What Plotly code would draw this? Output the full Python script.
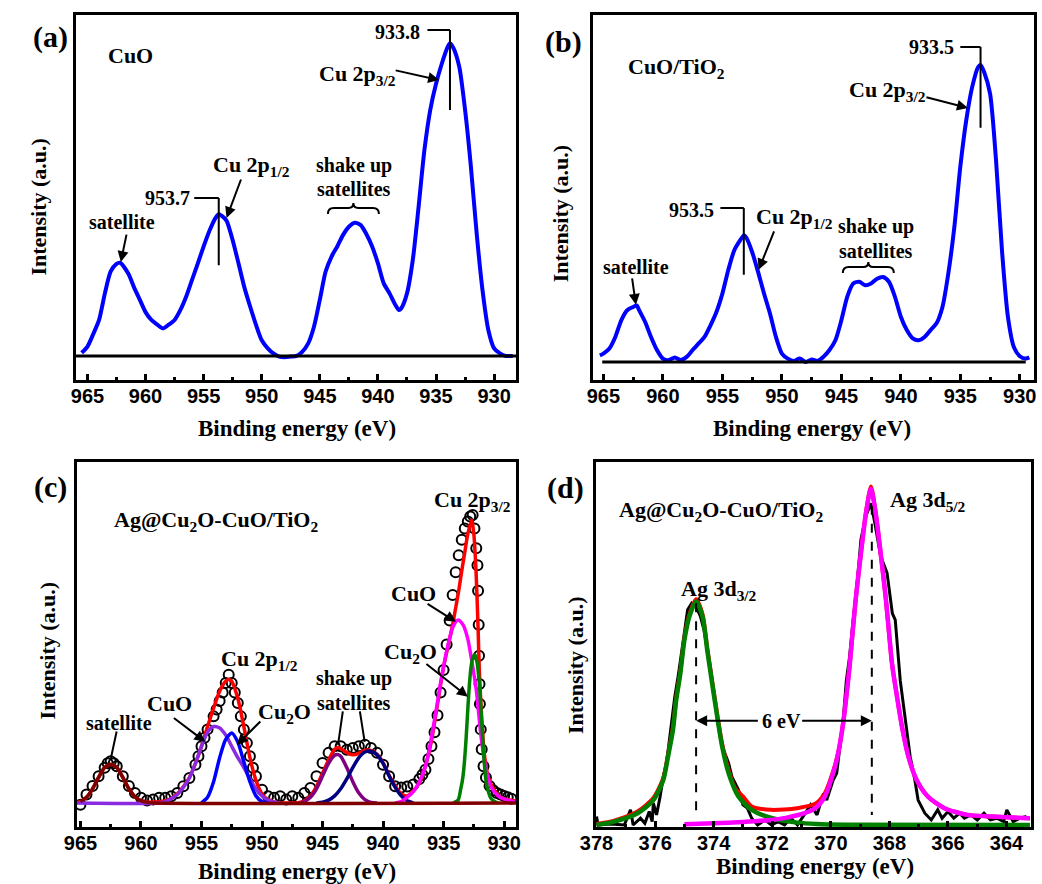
import plotly.graph_objects as go

W, H = 1042, 884
SERIF = "Liberation Serif"
SANS = "Liberation Sans"

# ---------------- data: (a) CuO ----------------
A_EV = [965.5, 965.0, 964.5, 964.0, 963.5, 963.0, 962.5, 962.2, 961.5, 961.0,
        960.5, 960.0, 959.5, 959.0, 958.5, 958.0, 957.5, 957.0, 956.5, 956.0,
        955.5, 955.0, 954.5, 954.0, 953.7, 953.2, 953.0, 952.5, 952.0, 951.5,
        951.0, 950.5, 950.0, 949.5, 949.0, 948.5, 948.0, 947.5, 947.0, 946.5,
        946.0, 945.5, 945.0, 944.5, 944.0, 943.5, 943.0, 942.5, 942.0, 941.5,
        941.0, 940.5, 940.0, 939.5, 939.0, 938.5, 938.2, 938.0, 937.5, 937.0,
        936.5, 936.0, 935.5, 935.0, 934.5, 934.0, 933.8, 933.5, 933.0, 932.5,
        932.0, 931.5, 931.0, 930.5, 930.0, 929.5, 929.0, 928.4]
A_INT = [0.01, 0.03, 0.07, 0.115, 0.20, 0.27, 0.294, 0.298, 0.264, 0.22,
         0.18, 0.14, 0.115, 0.10, 0.088, 0.10, 0.115, 0.147, 0.19, 0.243,
         0.296, 0.35, 0.40, 0.44, 0.453, 0.44, 0.43, 0.37, 0.296, 0.22,
         0.158, 0.10, 0.05, 0.025, 0.008, -0.002, -0.004, -0.002, 0.0, 0.014,
         0.04, 0.094, 0.18, 0.27, 0.317, 0.35, 0.387, 0.413, 0.426, 0.419,
         0.39, 0.35, 0.296, 0.232, 0.20, 0.163, 0.147, 0.152, 0.20, 0.307,
         0.477, 0.658, 0.786, 0.87, 0.935, 0.988, 1.0, 0.984, 0.924, 0.786,
         0.605, 0.39, 0.21, 0.083, 0.024, 0.008, 0.0, 0.0]

# ---------------- data: (b) CuO/TiO2 ----------------
B_EV = [965.3, 965.0, 964.5, 964.0, 963.5, 963.0, 962.5, 962.2, 962.0, 961.5,
        961.0, 960.5, 960.0, 959.5, 959.0, 958.5, 958.0, 957.5, 957.0, 956.5,
        956.0, 955.5, 955.0, 954.5, 954.0, 953.5, 953.2, 953.0, 952.5, 952.0,
        951.5, 951.0, 950.5, 950.0, 949.5, 949.0, 948.5, 948.0, 947.5, 947.0,
        946.5, 946.0, 945.5, 945.0, 944.5, 944.0, 943.5, 943.0, 942.5, 942.0,
        941.5, 941.0, 940.5, 940.0, 939.5, 939.0, 938.5, 938.0, 937.5, 937.0,
        936.5, 936.0, 935.5, 935.0, 934.5, 934.0, 933.5, 933.3, 933.0, 932.5,
        932.0, 931.5, 931.0, 930.5, 930.0, 929.5, 929.2]
B_INT = [0.022, 0.028, 0.045, 0.084, 0.14, 0.174, 0.185, 0.19, 0.174, 0.135,
         0.084, 0.04, 0.011, 0.006, 0.015, 0.006, 0.017, 0.04, 0.062, 0.084,
         0.123, 0.168, 0.23, 0.31, 0.376, 0.41, 0.426, 0.419, 0.37, 0.303,
         0.23, 0.163, 0.084, 0.028, 0.011, 0.003, 0.011, 0.0, 0.008, 0.003,
         0.017, 0.04, 0.073, 0.14, 0.22, 0.264, 0.27, 0.258, 0.264, 0.28,
         0.286, 0.27, 0.22, 0.152, 0.107, 0.079, 0.073, 0.084, 0.107, 0.13,
         0.185, 0.30, 0.455, 0.657, 0.814, 0.926, 0.993, 1.0, 0.976, 0.903,
         0.68, 0.376, 0.152, 0.05, 0.019, 0.011, 0.015]

# ---------------- data: (c) Ag@Cu2O-CuO/TiO2, Cu 2p ----------------
C_EV = [965.0, 964.5, 964.0, 963.5, 963.0, 962.75, 962.5, 962.25, 962.0, 961.5,
        961.0, 960.5, 960.0, 959.5, 959.0, 958.5, 958.0, 957.5, 957.0, 956.5,
        956.0, 955.5, 955.25, 955.0, 954.75, 954.5, 954.0, 953.75, 953.5, 953.25,
        953.0, 952.75, 952.5, 952.25, 952.0, 951.75, 951.5, 951.25, 951.0, 950.75,
        950.5, 950.0, 949.5, 949.0, 948.5, 948.0, 947.5, 947.0, 946.5, 946.0,
        945.5, 945.0, 944.5, 944.0, 943.5, 943.0, 942.5, 942.0, 941.5, 941.0,
        940.5, 940.0, 939.5, 939.0, 938.5, 938.0, 937.5, 937.0, 936.75, 936.5,
        936.25, 936.0, 935.75, 935.5, 935.25, 935.0, 934.75, 934.5, 934.25, 934.0,
        933.75, 933.5, 933.25, 933.0, 932.8, 932.6, 932.45, 932.3, 932.2, 932.15,
        932.1, 932.07, 932.03, 932.0, 931.93, 931.85, 931.7, 931.5, 931.2, 930.9,
        930.6, 930.3, 930.0, 929.7, 929.4]
C_DATA = [-0.006, 0.03, 0.06, 0.094, 0.124, 0.14, 0.147, 0.14, 0.13, 0.094,
          0.06, 0.035, 0.018, 0.009, 0.012, 0.018, 0.018, 0.024, 0.035, 0.059,
          0.088, 0.135, 0.165, 0.20, 0.23, 0.26, 0.306, 0.33, 0.36, 0.39,
          0.424, 0.453, 0.424, 0.39, 0.353, 0.306, 0.26, 0.212, 0.165, 0.124,
          0.094, 0.047, 0.024, 0.018, 0.024, 0.012, 0.024, 0.018, 0.035, 0.053,
          0.094, 0.141, 0.177, 0.20, 0.20, 0.188, 0.194, 0.20, 0.206, 0.194,
          0.177, 0.135, 0.094, 0.059, 0.055, 0.058, 0.065, 0.085, 0.10, 0.117,
          0.155, 0.20, 0.25, 0.31, 0.39, 0.47, 0.56, 0.645, 0.735, 0.815,
          0.875, 0.93, 0.97, 0.995, 1.012, 1.018, 0.97, 0.90, 0.84, 0.75,
          0.63, 0.52, 0.42, 0.35, 0.26, 0.19, 0.13, 0.09, 0.06, 0.045,
          0.035, 0.03, 0.025, 0.02, 0.015]
C_FIT_EV = [965.3, 965.0, 964.5, 964.0, 963.5, 963.0, 962.5, 962.0, 961.5, 961.0,
            960.5, 960.0, 959.5, 959.0, 958.5, 958.0, 957.5, 957.0, 956.5, 956.0,
            955.5, 955.0, 954.5, 954.0, 953.5, 953.0, 952.75, 952.5, 952.0, 951.5,
            951.0, 950.5, 950.0, 949.5, 949.0, 948.5, 947.0, 946.5, 946.0, 945.5,
            945.0, 944.5, 944.0, 943.75, 943.5, 943.0, 942.5, 942.0, 941.5, 941.0,
            940.5, 940.0, 939.5, 939.0, 938.5, 938.0, 937.5, 937.0, 936.5, 936.0,
            935.5, 935.0, 934.5, 934.25, 934.0, 933.75, 933.5, 933.25, 933.0, 932.67,
            932.5, 932.32, 932.15, 932.05, 931.85, 931.64, 931.3, 930.82, 930.3, 929.8,
            929.1]
C_FIT = [0.002, 0.005, 0.02, 0.05, 0.09, 0.125, 0.136, 0.125, 0.09, 0.05,
         0.022, 0.008, 0.003, 0.003, 0.004, 0.008, 0.016, 0.032, 0.057, 0.09,
         0.14, 0.2, 0.27, 0.335, 0.395, 0.43, 0.436, 0.43, 0.37, 0.27,
         0.16, 0.08, 0.032, 0.012, 0.004, 0.0, 0.001, 0.008, 0.025, 0.058,
         0.105, 0.152, 0.19, 0.196, 0.192, 0.178, 0.17, 0.175, 0.186, 0.186,
         0.172, 0.142, 0.098, 0.06, 0.032, 0.025, 0.042, 0.072, 0.13, 0.22,
         0.35, 0.48, 0.58, 0.63, 0.69, 0.75, 0.82, 0.885, 0.95, 1.0,
         0.95, 0.82, 0.62, 0.47, 0.30, 0.176, 0.09, 0.046, 0.02, 0.012,
         0.008]
# components
C_SAT_EV = [965.0, 964.5, 964.0, 963.5, 963.0, 962.5, 962.0, 961.5, 961.0, 960.5, 960.0, 959.5, 959.0, 929.0]
C_SAT = [0.005, 0.02, 0.05, 0.09, 0.125, 0.136, 0.125, 0.09, 0.05, 0.022, 0.008, 0.002, 0.0, 0.0]
C_CUO12_EV = [965.3, 958.5, 958.0, 957.5, 957.0, 956.5, 956.0, 955.5, 955.0, 954.5, 954.0, 953.5,
              953.0, 952.5, 952.0, 951.5, 951.0, 950.5, 950.0, 949.5, 949.0, 948.5]
C_CUO12 = [0.0, 0.0, 0.005, 0.015, 0.03, 0.055, 0.088, 0.14, 0.2, 0.25, 0.27, 0.265,
           0.24, 0.2, 0.16, 0.125, 0.085, 0.05, 0.025, 0.01, 0.003, 0.0]
C_CU2O12_EV = [955.0, 954.5, 954.0, 953.5, 953.0, 952.5, 952.0, 951.5, 951.0, 950.5, 950.0, 949.5]
C_CU2O12 = [0.0, 0.02, 0.075, 0.16, 0.225, 0.247, 0.215, 0.145, 0.075, 0.025, 0.005, 0.0]
C_SU1_EV = [946.8, 946.5, 946.0, 945.5, 945.0, 944.5, 944.0, 943.75, 943.5, 943.0, 942.5, 942.0, 941.5, 941.0, 940.5]
C_SU1 = [0.0, 0.005, 0.02, 0.05, 0.095, 0.14, 0.168, 0.171, 0.165, 0.125, 0.075, 0.035, 0.012, 0.002, 0.0]
C_SU2_EV = [945.5, 945.0, 944.5, 944.0, 943.5, 943.0, 942.5, 942.0, 941.5, 941.0, 940.5, 940.0, 939.5, 939.0, 938.5, 938.0, 937.5]
C_SU2 = [0.0, 0.003, 0.01, 0.025, 0.05, 0.085, 0.125, 0.16, 0.18, 0.183, 0.17, 0.14, 0.095, 0.055, 0.025, 0.008, 0.0]
C_CUO32_EV = [939.0, 938.5, 938.1, 937.5, 937.05, 936.5, 936.24, 935.7, 935.16, 934.6, 934.2, 933.8,
              933.4, 933.0, 932.73, 932.3, 931.9, 931.5, 931.1, 930.5, 929.7, 929.1]
C_CUO32 = [0.0, 0.005, 0.017, 0.04, 0.07, 0.13, 0.177, 0.305, 0.446, 0.565, 0.625, 0.647,
           0.63, 0.58, 0.517, 0.4, 0.234, 0.12, 0.058, 0.025, 0.01, 0.005]
C_CU2O32_EV = [934.2, 933.8, 933.6, 933.4, 933.25, 933.13, 933.0, 932.86, 932.7, 932.55, 932.4,
               932.25, 932.05, 931.9, 931.78, 931.65, 931.5, 931.3, 931.1, 930.8, 930.5]
C_CU2O32 = [0.0, 0.01, 0.045, 0.093, 0.16, 0.234, 0.33, 0.423, 0.49, 0.518, 0.523,
            0.5, 0.423, 0.32, 0.234, 0.15, 0.08, 0.04, 0.017, 0.005, 0.0]

# ---------------- data: (d) Ag 3d ----------------
D_EV = [378.0, 377.95, 377.5, 377.05, 376.84, 376.75, 376.5, 376.35, 376.2, 376.1,
        376.06, 375.95, 375.83, 375.72, 375.61, 375.5, 375.33, 375.2, 375.05, 374.89,
        374.75, 374.6, 374.45, 374.33, 374.1, 373.95, 373.82, 373.66, 373.49, 373.38,
        373.15, 373.0, 372.85, 372.7, 372.5, 372.25, 372.03, 371.8, 371.58, 371.36,
        371.14, 370.91, 370.69, 370.47, 370.36, 370.25, 370.14, 369.92, 369.8, 369.69,
        369.58, 369.47, 369.36, 369.25, 369.1, 368.97, 368.8, 368.63, 368.5, 368.3,
        368.08, 367.9, 367.8, 367.63, 367.52, 367.4, 367.29, 367.13, 367.02, 366.79,
        366.57, 366.35, 366.2, 366.0, 365.8, 365.6, 365.44, 365.22, 365.0, 364.77,
        364.55, 364.33, 364.1, 363.99, 363.77, 363.55, 363.32]
D_DATA = [0.025, 0.0, 0.003, 0.0, 0.045, 0.0, 0.02, 0.005, 0.04, 0.01,
          0.065, 0.03, 0.084, 0.144, 0.184, 0.263, 0.38, 0.45, 0.54, 0.64,
          0.66, 0.65, 0.62, 0.58, 0.46, 0.37, 0.283, 0.223, 0.184, 0.144,
          0.104, 0.06, 0.05, 0.02, 0.0, 0.015, 0.0, 0.01, 0.0, 0.02,
          0.0, 0.03, 0.06, 0.03, 0.065, 0.094, 0.074, 0.134, 0.154, 0.233,
          0.31, 0.43, 0.5, 0.6, 0.72, 0.85, 0.92, 0.957, 0.9, 0.8,
          0.75, 0.63, 0.61, 0.43, 0.352, 0.274, 0.203, 0.134, 0.074, 0.035,
          0.015, 0.045, 0.02, 0.04, 0.02, 0.035, 0.02, 0.03, 0.015, 0.035,
          0.015, 0.02, 0.01, 0.045, 0.01, 0.02, 0.025]
D_FIT_EV = [378.0, 377.4, 376.6, 376.06, 375.72, 375.56, 375.39, 375.28, 375.14, 375.0,
            374.83, 374.6, 374.38, 374.22, 374.05, 373.88, 373.71, 373.49, 373.27, 373.0,
            372.7, 372.04, 371.15, 370.5, 370.2, 369.92, 369.75, 369.58, 369.36, 369.14,
            368.97, 368.8, 368.63, 368.47, 368.3, 368.13, 367.91, 367.74, 367.57, 367.35,
            367.07, 366.68, 366.12, 365.34, 364.5, 363.8, 363.2]
D_FIT = [0.003, 0.013, 0.04, 0.08, 0.14, 0.21, 0.29, 0.378, 0.456, 0.556,
         0.626, 0.672, 0.627, 0.527, 0.427, 0.33, 0.241, 0.163, 0.11, 0.085,
         0.055, 0.045, 0.05, 0.065, 0.095, 0.16, 0.215, 0.303, 0.472, 0.68,
         0.81, 0.93, 1.007, 0.93, 0.81, 0.68, 0.48, 0.382, 0.292, 0.203,
         0.134, 0.084, 0.05, 0.03, 0.025, 0.022, 0.02]
D_32_EV = [378.0, 377.4, 376.6, 376.06, 375.72, 375.56, 375.39, 375.28, 375.14, 375.0,
           374.83, 374.6, 374.38, 374.22, 374.05, 373.88, 373.71, 373.49, 373.15, 372.7,
           372.0, 371.15, 370.5, 369.5, 363.2]
D_32 = [0.0, 0.01, 0.035, 0.074, 0.134, 0.203, 0.283, 0.372, 0.45, 0.55,
        0.62, 0.665, 0.62, 0.52, 0.42, 0.322, 0.233, 0.154, 0.084, 0.045,
        0.02, 0.007, 0.003, 0.001, 0.0]
D_52_EV = [375.0, 374.0, 373.0, 372.04, 371.5, 370.9, 370.5, 370.2, 369.92, 369.75,
           369.58, 369.47, 369.36, 369.25, 369.14, 368.97, 368.8, 368.63, 368.47, 368.3,
           368.13, 368.02, 367.91, 367.74, 367.57, 367.35, 367.07, 366.68, 366.12, 365.34,
           364.5, 363.8, 363.2]
D_52 = [0.002, 0.005, 0.009, 0.015, 0.022, 0.035, 0.052, 0.085, 0.154, 0.213,
        0.302, 0.382, 0.471, 0.58, 0.68, 0.81, 0.928, 1.0, 0.928, 0.81,
        0.68, 0.58, 0.48, 0.382, 0.292, 0.203, 0.134, 0.084, 0.05, 0.03,
        0.025, 0.022, 0.02]

for xs, ys in [(A_EV, A_INT), (B_EV, B_INT), (C_EV, C_DATA), (C_FIT_EV, C_FIT),
               (C_SAT_EV, C_SAT), (C_CUO12_EV, C_CUO12), (C_CU2O12_EV, C_CU2O12),
               (C_SU1_EV, C_SU1), (C_SU2_EV, C_SU2), (C_CUO32_EV, C_CUO32),
               (C_CU2O32_EV, C_CU2O32), (D_EV, D_DATA), (D_FIT_EV, D_FIT),
               (D_32_EV, D_32), (D_52_EV, D_52)]:
    assert len(xs) == len(ys), (len(xs), len(ys), xs[0])

# ---------------- layout helpers ----------------
def P(px, py):
    return px / W, 1 - py / H

PANELS = {
    'a': dict(s='', xd=(61, 510), yd=(15, 380), xr=[966.0, 928.1], yr=[-0.077, 1.09], dt=5, mdt=2.5),
    'b': dict(s='2', xd=(588, 1038), yd=(15, 380), xr=[965.9, 928.8], yr=[-0.061, 1.168], dt=5, mdt=2.5),
    'c': dict(s='3', xd=(62, 510), yd=(462, 827), xr=[965.3, 929.0], yr=[-0.085, 1.205], dt=5, mdt=2.5),
    'd': dict(s='4', xd=(591, 1035), yd=(462, 827), xr=[378.03, 363.16], yr=[-0.006, 1.08], dt=2, mdt=1),
}

fig = go.Figure()
layout = dict(width=W, height=H, margin=dict(l=0, r=0, t=0, b=0),
              paper_bgcolor='white', plot_bgcolor='white', showlegend=False)

for k, p in PANELS.items():
    s = p['s']
    layout['xaxis' + s] = dict(
        domain=[p['xd'][0] / W, p['xd'][1] / W], range=p['xr'], anchor='y' + s,
        showline=True, linewidth=3, linecolor='black', mirror=True,
        ticks='inside', ticklen=6, tickwidth=3, tickcolor='black', dtick=p['dt'], tick0=0,
        minor=dict(dtick=p['mdt'], tick0=0, ticks='inside', ticklen=3, tickwidth=3, tickcolor='black', showgrid=False),
        tickfont=dict(family=SANS, size=20, color='black', weight='bold'),
        ticklabelstandoff=-4,
        showgrid=False, zeroline=False, fixedrange=True)
    layout['yaxis' + s] = dict(
        domain=[1 - p['yd'][1] / H, 1 - p['yd'][0] / H], range=p['yr'], anchor='x' + s,
        showline=True, linewidth=3, linecolor='black', mirror=True,
        ticks='', showticklabels=False, showgrid=False, zeroline=False, fixedrange=True)


def add_line(panel, x, y, color, width, shape='spline'):
    s = PANELS[panel]['s']
    fig.add_trace(go.Scatter(x=x, y=y, xaxis='x' + s, yaxis='y' + s, mode='lines',
                             line=dict(color=color, width=width, shape=shape,
                                       smoothing=0.7 if shape == 'spline' else None),
                             hoverinfo='skip', showlegend=False))

# (a)
add_line('a', A_EV, A_INT, '#0000FF', 4)
# (b)
add_line('b', B_EV, B_INT, '#0000FF', 4)
# (c)
fig.add_trace(go.Scatter(x=C_EV, y=C_DATA, xaxis='x3', yaxis='y3', mode='markers',
                         marker=dict(symbol='circle-open', size=10, color='black', line=dict(width=2)),
                         hoverinfo='skip', showlegend=False))
add_line('c', C_FIT_EV, C_FIT, '#FF0000', 3.5)
add_line('c', C_CUO12_EV, C_CUO12, '#8A2BE2', 3.5)
add_line('c', C_CU2O12_EV, C_CU2O12, '#0000FF', 3.5)
add_line('c', C_SU1_EV, C_SU1, '#800080', 3.5)
add_line('c', C_SU2_EV, C_SU2, '#000080', 3.5)
add_line('c', C_CUO32_EV, C_CUO32, '#FF00FF', 3.5)
add_line('c', C_CU2O32_EV, C_CU2O32, '#008000', 3.5)
add_line('c', C_SAT_EV, C_SAT, '#800000', 3.5)
# (d)
add_line('d', D_EV, D_DATA, 'black', 3, shape='linear')
add_line('d', D_FIT_EV, D_FIT, '#FF0000', 4)
add_line('d', D_32_EV, D_32, '#008000', 4.5)
add_line('d', D_52_EV, D_52, '#FF00FF', 4.5)

shapes = []
annotations = []

def text(t, px, py, size=22, xanchor='left', yanchor='middle'):
    x, y = P(px, py)
    annotations.append(dict(text=t, x=x, y=y, xref='paper', yref='paper', showarrow=False,
                            xanchor=xanchor, yanchor=yanchor,
                            font=dict(family=SERIF, size=size, color='black', weight='bold')))

def arrow(panel, x, y, ax, ay, head=2, width=2):
    s = PANELS[panel]['s']
    annotations.append(dict(text='', x=x, y=y, xref='x' + s, yref='y' + s, ax=ax, ay=ay,
                            showarrow=True, arrowhead=head, arrowsize=1.1, arrowwidth=width,
                            arrowcolor='black'))

def seg(panel, x0, y0, x1, y1, width=2, dash='solid'):
    s = PANELS[panel]['s']
    shapes.append(dict(type='line', xref='x' + s, yref='y' + s, x0=x0, y0=y0, x1=x1, y1=y1,
                       line=dict(color='black', width=width, dash=dash)))

def brace(cx, yb, hw):
    def q(px, py):
        x, y = P(px, py)
        return f"{x:.5f},{y:.5f}"
    path = (f"M {q(cx-hw, yb)} Q {q(cx-hw, yb-6)} {q(cx-hw+6, yb-6)} L {q(cx-5, yb-6)} "
            f"Q {q(cx, yb-6)} {q(cx, yb-11)} Q {q(cx, yb-6)} {q(cx+5, yb-6)} "
            f"L {q(cx+hw-6, yb-6)} Q {q(cx+hw, yb-6)} {q(cx+hw, yb)}")
    shapes.append(dict(type='path', xref='paper', yref='paper', path=path,
                       line=dict(color='black', width=2)))

# axis titles
for (xt, yt), (xy, yy) in [((287, 428), (22, 207)), ((812, 428), (555, 213)),
                           ((287, 871), (32, 650)), ((815, 866), (570, 665))]:
    x, y = P(xt, yt)
    annotations.append(dict(text='Binding energy (eV)', x=x, y=y, xref='paper', yref='paper',
                            showarrow=False, xanchor='center', yanchor='middle',
                            font=dict(family=SERIF, size=23, color='black', weight='bold')))
    x, y = P(xy, yy)
    annotations.append(dict(text='Intensity (a.u.)', x=x, y=y, xref='paper', yref='paper',
                            showarrow=False, xanchor='center', yanchor='middle', textangle=-90,
                            font=dict(family=SERIF, size=22, color='black', weight='bold')))

# ----- panel (a) -----
shapes.append(dict(type='line', xref='x', yref='y', x0=966.0, x1=928.1, y0=0, y1=0,
                   line=dict(color='black', width=3)))
text('(a)', 35, 37, size=30, xanchor='center')
text('CuO', 92, 55)
text('933.8', 414, 32, size=20, xanchor='right')
seg('a', 935.74, 1.042, 933.8, 1.042)
seg('a', 933.8, 1.042, 933.8, 0.786)
text('Cu 2p<sub>3/2</sub>', 307, 75)
arrow('a', 934.73, 0.882, -45, -10)
text('953.7', 179, 198, size=20, xanchor='right')
seg('a', 955.81, 0.505, 953.7, 0.505)
seg('a', 953.7, 0.505, 953.7, 0.29)
text('Cu 2p<sub>1/2</sub>', 199, 166)
arrow('a', 953.03, 0.441, 15, -40)
text('shake up', 345, 165, size=20, xanchor='center')
text('satellites', 345, 189, size=20, xanchor='center')
brace(344, 214, 26)
text('satellite', 108, 222, size=20, xanchor='center')
arrow('a', 962.13, 0.30, 6, -29)

# ----- panel (b) -----
shapes.append(dict(type='line', xref='x2', yref='y2', x0=965.1, x1=929.5, y0=0, y1=0,
                   line=dict(color='black', width=3)))
text('(b)', 558, 42, size=30, xanchor='center')
text('CuO/TiO<sub>2</sub>', 622, 68)
text('933.5', 958, 47, size=20, xanchor='right')
seg('b', 935.0, 1.06, 933.3, 1.06)
seg('b', 933.3, 1.06, 933.3, 0.788)
text('Cu 2p<sub>3/2</sub>', 847, 91)
arrow('b', 934.36, 0.855, -43, -11)
text('953.5', 714, 210, size=20, xanchor='right')
seg('b', 955.17, 0.518, 953.2, 0.518)
seg('b', 953.2, 0.518, 953.2, 0.293)
text('Cu 2p<sub>1/2</sub>', 752, 218)
arrow('b', 951.95, 0.31, 16, -40)
text('shake up', 877, 227, size=20, xanchor='center')
text('satellites', 877, 251, size=20, xanchor='center')
brace(869, 273, 26)
text('satellite', 632, 267, size=20, xanchor='center')
arrow('b', 962.27, 0.192, -4, -28)

# ----- panel (c) -----
text('(c)', 35, 487, size=30, xanchor='center')
text('Ag@Cu<sub>2</sub>O-CuO/TiO<sub>2</sub>', 98, 521)
text('Cu 2p<sub>3/2</sub>', 424, 501)
text('CuO', 380, 593)
arrow('c', 933.97, 0.64, -30, -19)
text('Cu<sub>2</sub>O', 373, 653)
arrow('c', 932.99, 0.375, -43, -34)
text('Cu 2p<sub>1/2</sub>', 207, 660)
text('CuO', 132, 703)
arrow('c', 954.68, 0.216, -33, -25)
text('Cu<sub>2</sub>O', 245, 713)
arrow('c', 952.08, 0.205, 25, -25)
text('shake up', 345, 678, size=20, xanchor='center')
text('satellites', 345, 703, size=20, xanchor='center')
arrow('c', 943.72, 0.205, 5, -35, head=0)
arrow('c', 941.52, 0.216, -5, -32, head=0)
text('satellite', 105, 723, size=20, xanchor='center')
arrow('c', 962.48, 0.159, 6, -28, head=0)

# ----- panel (d) -----
text('(d)', 560, 488, size=30, xanchor='center')
text('Ag@Cu<sub>2</sub>O-CuO/TiO<sub>2</sub>', 613, 511)
text('Ag 3d<sub>5/2</sub>', 889, 501)
text('Ag 3d<sub>3/2</sub>', 676, 590)
seg('d', 374.6, 0.66, 374.6, 0.024, width=2, dash='dash')
seg('d', 368.6, 0.95, 368.6, 0.03, width=2, dash='dash')
text('6 eV', 780, 721, size=20, xanchor='center')
annotations.append(dict(text='', x=374.6, y=0.31, xref='x4', yref='y4', ax=372.44, ay=0.31,
                        axref='x4', ayref='y4', showarrow=True, arrowhead=2, arrowsize=1.1,
                        arrowwidth=2, arrowcolor='black'))
annotations.append(dict(text='', x=368.6, y=0.31, xref='x4', yref='y4', ax=371.03, ay=0.31,
                        axref='x4', ayref='y4', showarrow=True, arrowhead=2, arrowsize=1.1,
                        arrowwidth=2, arrowcolor='black'))

layout['shapes'] = shapes
layout['annotations'] = annotations
fig.update_layout(**layout)
fig.write_html('out.html', config={'displayModeBar': False},
               post_script="document.body.style.margin='0';document.body.style.overflow='hidden';")
